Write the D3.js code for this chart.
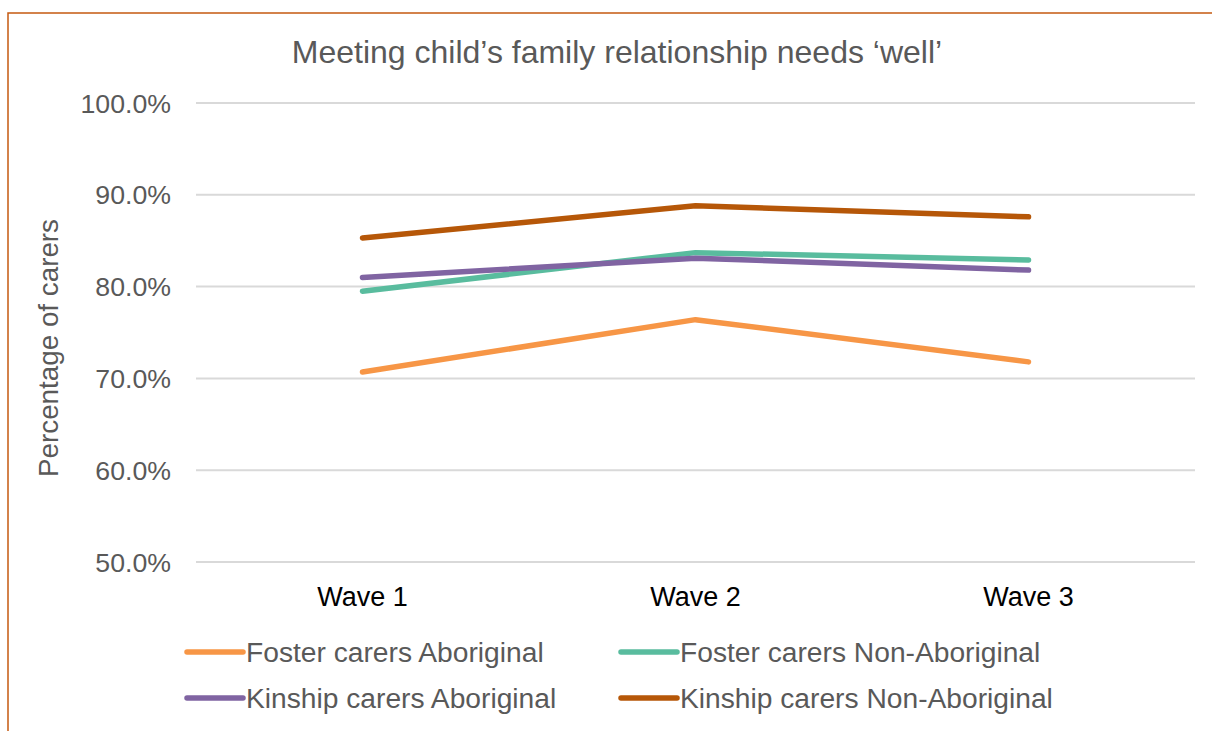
<!DOCTYPE html>
<html><head><meta charset="utf-8">
<script src="https://cdn.jsdelivr.net/npm/d3@7"></script>
<style>html,body{margin:0;padding:0;background:#fff;}svg{display:block;font-family:"Liberation Sans",Arial,sans-serif;}</style>
</head><body>
<svg id="c" width="1212" height="731"></svg>
<script>
const categories = ["Wave 1", "Wave 2", "Wave 3"];
const fosterAboriginal = [70.7, 76.4, 71.8];
const fosterNonAboriginal = [79.5, 83.7, 82.9];
const kinshipAboriginal = [81.0, 83.1, 81.8];
const kinshipNonAboriginal = [85.3, 88.8, 87.6];
const seriesNames = ["Foster carers Aboriginal", "Foster carers Non-Aboriginal", "Kinship carers Aboriginal", "Kinship carers Non-Aboriginal"];
const yTicks = [50, 60, 70, 80, 90, 100];

const seriesValues = [fosterAboriginal, fosterNonAboriginal, kinshipAboriginal, kinshipNonAboriginal];
const colors = ["#F79646", "#59BC9E", "#8064A2", "#B65708"];

const svg = d3.select("#c");
// border
svg.append("rect").attr("x", 8).attr("y", 13).attr("width", 1240).attr("height", 760)
  .attr("fill", "none").attr("stroke", "#C55A11").attr("stroke-width", 1.5);

const x = d3.scalePoint().domain(categories).range([196, 1195]).padding(0.5);
const y = d3.scaleLinear().domain([50, 100]).range([562, 103]);

// gridlines
svg.append("g").selectAll("line").data(yTicks).join("line")
  .attr("x1", 196).attr("x2", 1195)
  .attr("y1", d => y(d)).attr("y2", d => y(d))
  .attr("stroke", "#D9D9D9").attr("stroke-width", 2);

// y tick labels
svg.append("g").selectAll("text").data(yTicks).join("text")
  .attr("x", 171).attr("y", d => y(d)).attr("dy", "0.36em")
  .attr("text-anchor", "end").attr("fill", "#595959").attr("font-size", 26.7)
  .text(d => d3.format(".1f")(d) + "%");

// x labels
svg.append("g").selectAll("text").data(categories).join("text")
  .attr("x", d => x(d)).attr("y", 606)
  .attr("text-anchor", "middle").attr("fill", "#000").attr("font-size", 27)
  .text(d => d);

// title
svg.append("text").attr("x", 617).attr("y", 63).attr("text-anchor", "middle")
  .attr("fill", "#595959").attr("font-size", 32)
  .text("Meeting child\u2019s family relationship needs \u2018well\u2019");

// y axis title
svg.append("text").attr("transform", "translate(58,348) rotate(-90)")
  .attr("text-anchor", "middle").attr("fill", "#595959").attr("font-size", 27.8)
  .text("Percentage of carers");

// lines
const line = d3.line().x((d, i) => x(categories[i])).y(d => y(d));
svg.append("g").selectAll("path").data(seriesValues).join("path")
  .attr("d", d => line(d)).attr("fill", "none")
  .attr("stroke", (d, i) => colors[i]).attr("stroke-width", 5.5)
  .attr("stroke-linecap", "round").attr("stroke-linejoin", "round");

// legend
const legPos = [[187, 652], [621, 652], [187, 698], [621, 698]];
const leg = svg.append("g").selectAll("g").data(seriesNames).join("g")
  .attr("transform", (d, i) => `translate(${legPos[i][0]},${legPos[i][1]})`);
leg.append("line").attr("x1", 0).attr("x2", 56).attr("y1", 0).attr("y2", 0)
  .attr("stroke", (d, i) => colors[i]).attr("stroke-width", 5.5).attr("stroke-linecap", "round");
leg.append("text").attr("x", 59).attr("y", 0).attr("dy", "0.36em")
  .attr("fill", "#595959").attr("font-size", 28.2).text(d => d);
</script>
</body></html>
